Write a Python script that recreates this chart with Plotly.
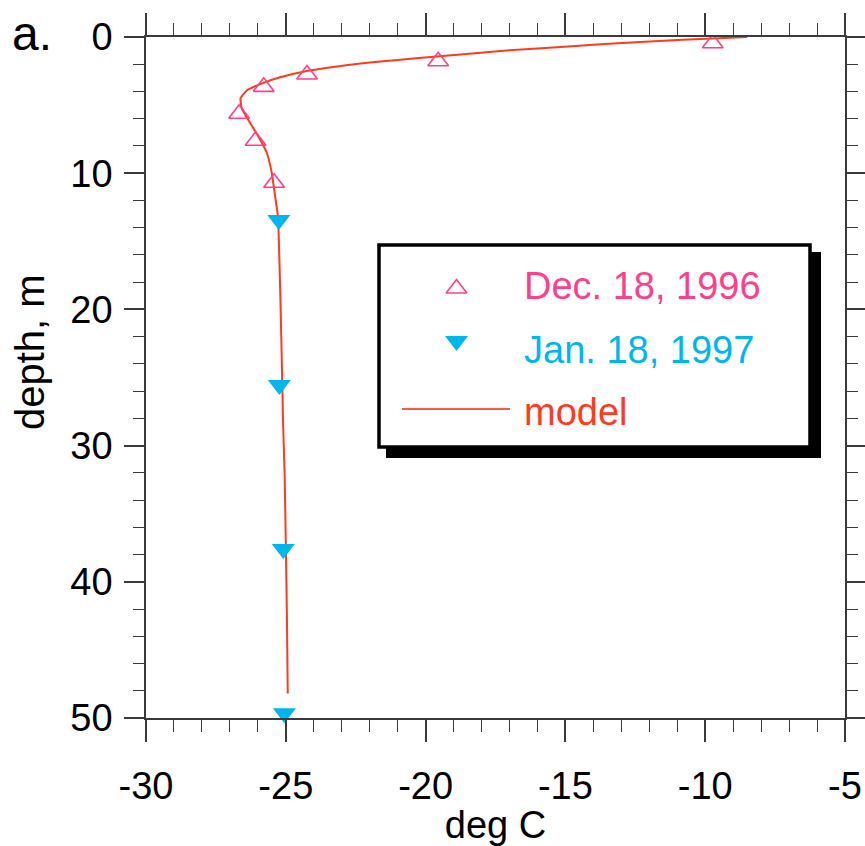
import plotly.graph_objects as go

# Measured profile, Dec. 18, 1996 (temperature in deg C, depth in m)
dec_temp = [-9.73, -19.55, -24.24, -25.79, -26.67, -26.08, -25.42]
dec_depth = [0.46, 1.78, 2.75, 3.66, 5.64, 7.62, 10.70]

# Measured profile, Jan. 18, 1997
jan_temp = [-25.25, -25.23, -25.09, -25.05]
jan_depth = [13.44, 25.55, 37.6, 49.65]

# Model temperature profile
model_temp = [-8.5, -11.0, -13.6, -17.0, -19.5, -21.0, -22.25, -23.3, -24.25,
              -25.2, -25.85, -26.4, -26.62, -26.58, -26.34, -25.98, -25.68,
              -25.5, -25.36, -25.28, -25.2, -25.16, -25.12, -25.1, -25.04,
              -25.0, -24.96, -24.93]
model_depth = [0.0, 0.22, 0.52, 0.98, 1.42, 1.68, 1.93, 2.2, 2.5, 2.96, 3.4,
               3.93, 4.5, 5.2, 6.1, 7.3, 8.5, 10.0, 12.0, 13.2, 18.6, 22.2,
               26.0, 28.1, 32.3, 37.2, 42.6, 48.2]

x_ticks = [-30, -25, -20, -15, -10, -5]
x_labels = ["-30", "-25", "-20", "-15", "-10", "-5"]
y_ticks = [0, 10, 20, 30, 40, 50]
y_labels = ["0", "10", "20", "30", "40", "50"]

PINK = "#FF3F8C"
CYAN = "#00B6EA"
RED = "#FF3A1E"
AXIS = "#3a3a3a"
FONT = "Liberation Sans, Arial, Helvetica, sans-serif"

W, H = 865, 846
L, R, T, B = 146, 20, 37, 128
PW, PH = W - L - R, H - T - B


def paper_x(px):
    return (px - L) / PW


def paper_y(py):
    return (H - B - py) / PH


fig = go.Figure()

fig.add_trace(go.Scatter(
    x=model_temp, y=model_depth, mode="lines", name="model",
    line=dict(color=RED, width=2, shape="spline", smoothing=0.4),
    showlegend=False))

fig.add_trace(go.Scatter(
    x=dec_temp, y=dec_depth, mode="markers", name="Dec. 18, 1996",
    marker=dict(symbol="triangle-up-open", size=18, color=PINK,
                line=dict(color=PINK, width=1.6)),
    showlegend=False))

fig.add_trace(go.Scatter(
    x=jan_temp, y=jan_depth, mode="markers", name="Jan. 18, 1997",
    marker=dict(symbol="triangle-down", size=20, color=CYAN,
                line=dict(width=0)),
    showlegend=False, cliponaxis=False))

# Key box drawn on a pixel-space overlay (x2/y2)
legend_rows = [("Dec. 18, 1996", PINK, 286), ("Jan. 18, 1997", CYAN, 350),
               ("model", RED, 412)]

fig.add_trace(go.Scatter(
    x=[456.5], y=[288.5], xaxis="x2", yaxis="y2", mode="markers",
    marker=dict(symbol="triangle-up-open", size=18, color=PINK,
                line=dict(color=PINK, width=1.6)),
    showlegend=False, hoverinfo="skip"))
fig.add_trace(go.Scatter(
    x=[456.5], y=[341], xaxis="x2", yaxis="y2", mode="markers",
    marker=dict(symbol="triangle-down", size=20, color=CYAN, line=dict(width=0)),
    showlegend=False, hoverinfo="skip"))

shapes = [
    # shadow
    dict(type="rect", xref="x2", yref="y2", x0=386, y0=252, x1=821, y1=458,
         fillcolor="black", line=dict(width=0), layer="below"),
    # box
    dict(type="rect", xref="x2", yref="y2", x0=379, y0=245, x1=810, y1=447,
         fillcolor="white", line=dict(color="black", width=3.5), layer="below"),
    # model key line
    dict(type="line", xref="x2", yref="y2", x0=402, y0=409, x1=510, y1=409,
         line=dict(color="#FF5A40", width=2), layer="below"),
]

annotations = [
    dict(text=txt, x=522, y=yy, xref="x2", yref="y2", xanchor="left",
         yanchor="middle", showarrow=False,
         font=dict(family=FONT, size=38, color=col))
    for txt, col, yy in legend_rows
]
# panel letter
annotations.append(dict(text="a.", x=paper_x(10), y=paper_y(62),
                        xref="paper", yref="paper",
                        xanchor="left", yanchor="bottom", showarrow=False,
                        font=dict(family=FONT, size=48, color="black")))
# depth axis title
annotations.append(dict(text="depth, m", x=paper_x(30), y=paper_y(352),
                        xref="paper", yref="paper",
                        xanchor="center", yanchor="middle", textangle=-90,
                        showarrow=False,
                        font=dict(family=FONT, size=40, color="black")))

axis_common = dict(
    showline=True, linecolor=AXIS, linewidth=1.6, mirror="ticks",
    ticks="outside", tickcolor=AXIS, tickwidth=1.6,
    showgrid=False, zeroline=False, automargin=False,
    tickfont=dict(family=FONT, size=38, color="black"),
)

fig.update_layout(
    width=W, height=H, autosize=False,
    margin=dict(l=L, r=R, t=T, b=B),
    paper_bgcolor="white", plot_bgcolor="white",
    xaxis=dict(range=[-30, -5], tickvals=x_ticks, ticktext=x_labels,
               ticklen=22, ticklabelstandoff=12,
               minor=dict(dtick=1, ticklen=12, ticks="outside",
                          tickcolor=AXIS, tickwidth=1.4),
               title=dict(text="deg C", standoff=12,
                          font=dict(family=FONT, size=38, color="black")),
               **axis_common),
    yaxis=dict(range=[50, 0], tickvals=y_ticks, ticktext=y_labels,
               ticklen=20, ticklabelstandoff=4,
               minor=dict(dtick=2, ticklen=11, ticks="outside",
                          tickcolor=AXIS, tickwidth=1.4),
               **axis_common),
    xaxis2=dict(overlaying="x", range=[L, W - R], visible=False,
                fixedrange=True, automargin=False),
    yaxis2=dict(overlaying="y", range=[H - B, T], visible=False,
                fixedrange=True, automargin=False),
    shapes=shapes,
    annotations=annotations,
    showlegend=False,
)

fig.write_html("out.html")
